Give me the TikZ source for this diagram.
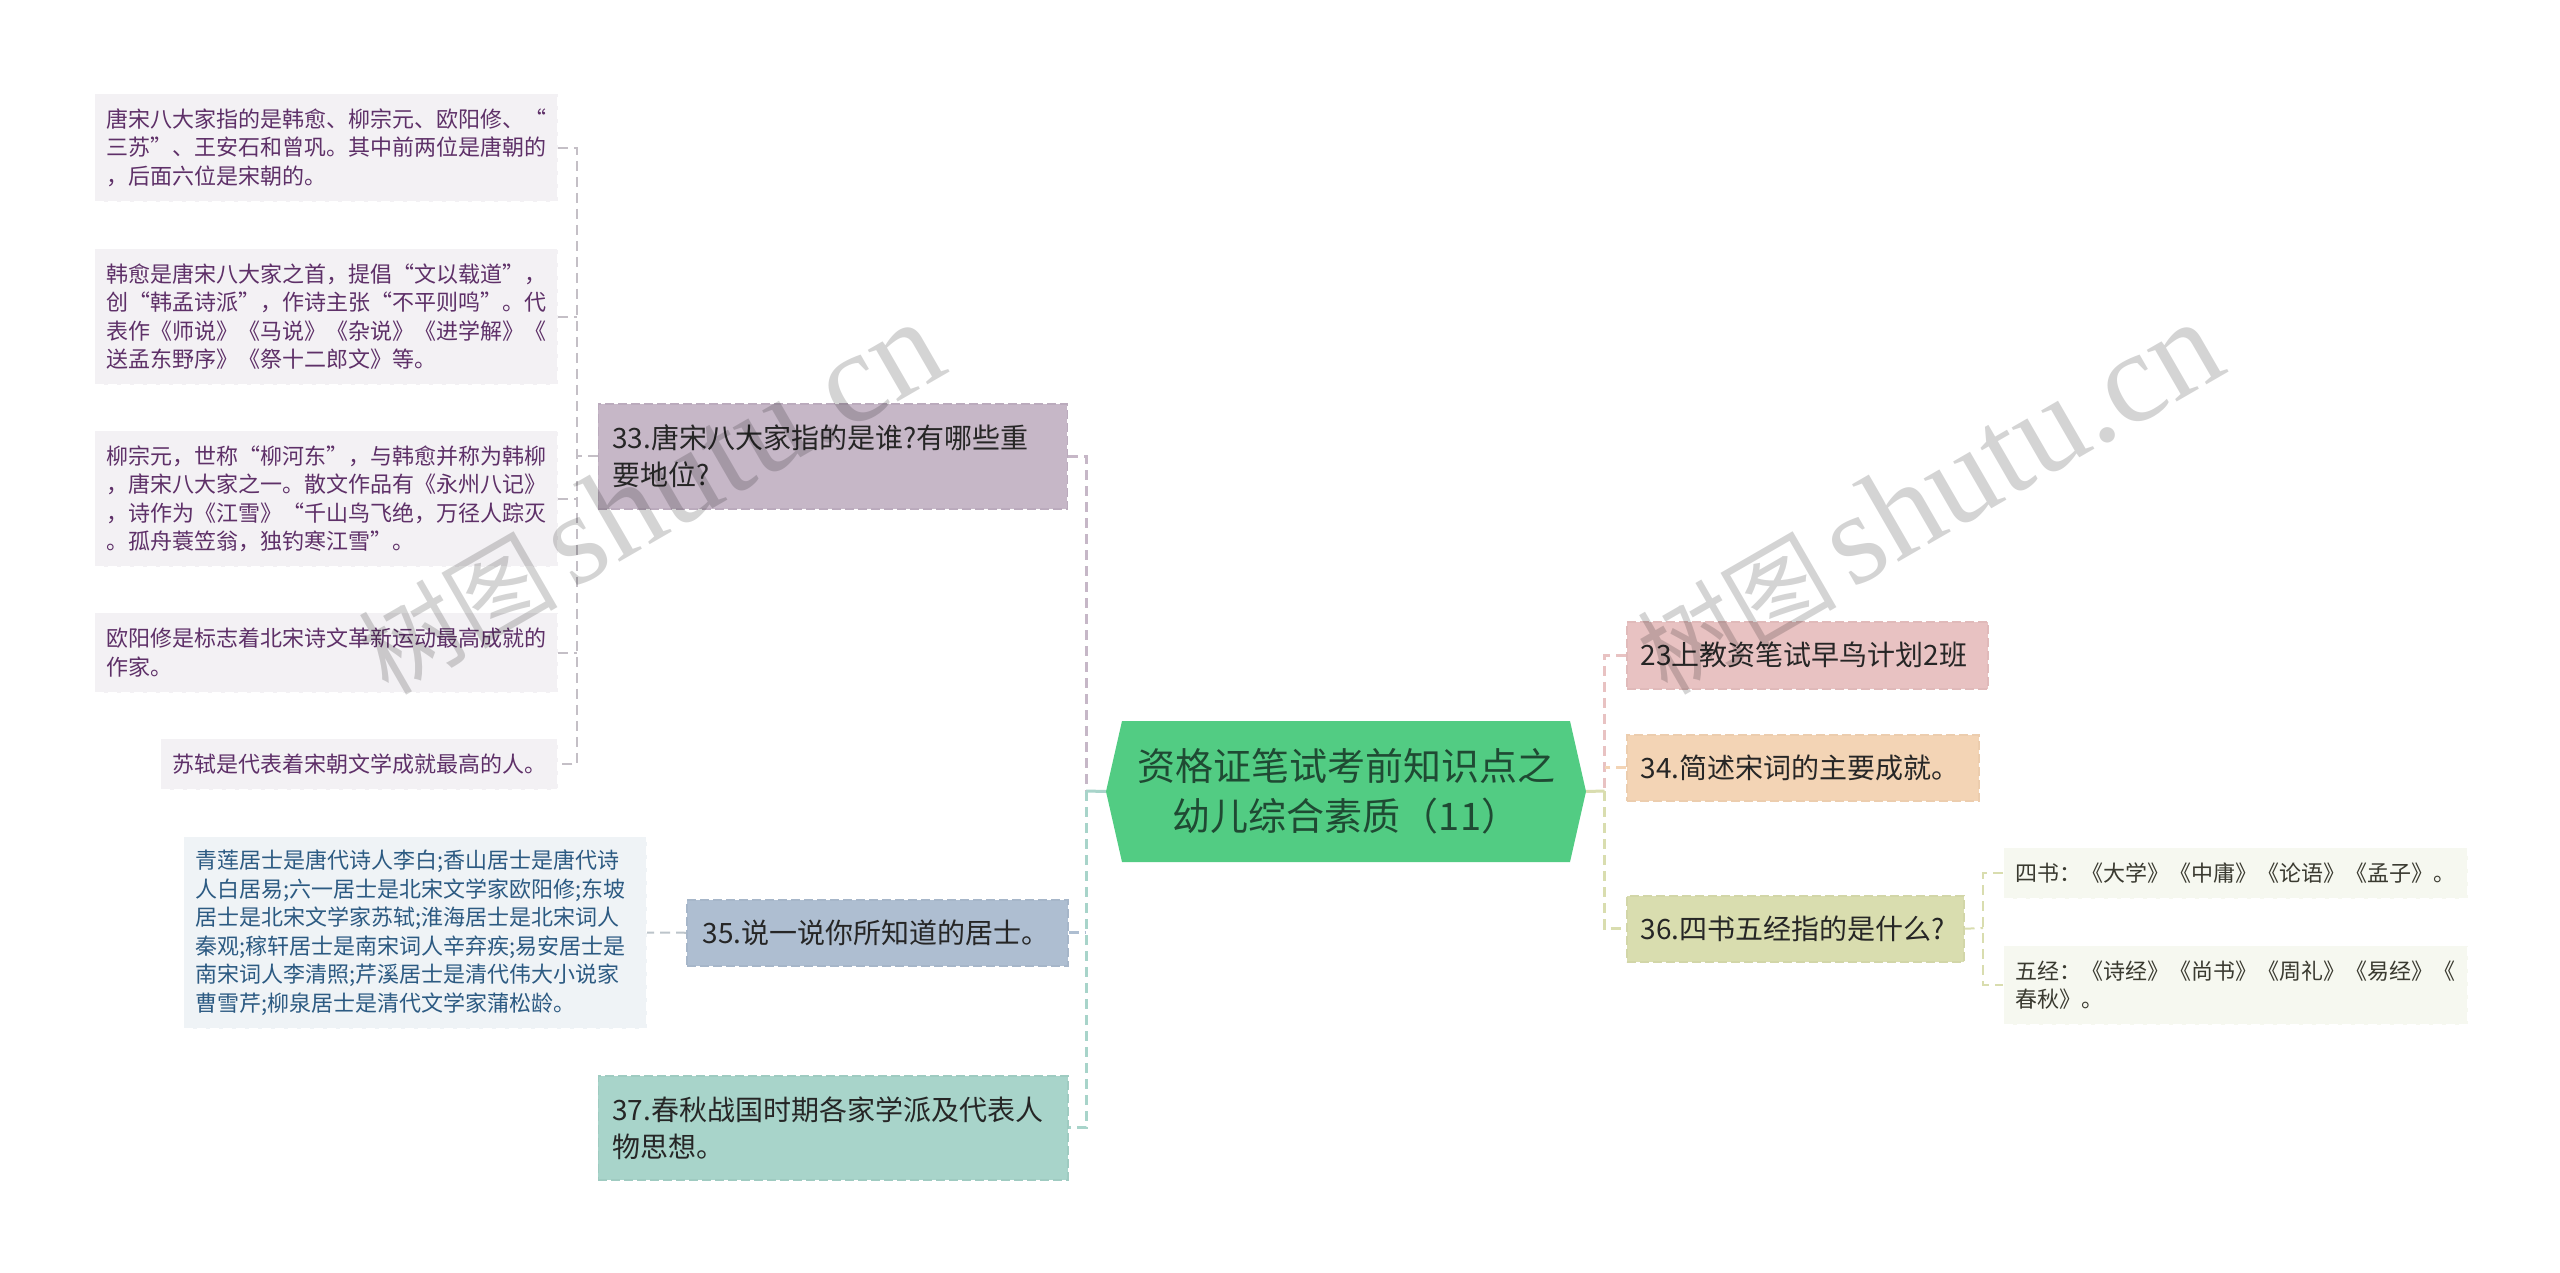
\documentclass[tikz,border=0pt]{standalone}
\usepackage{fontspec}
\setmainfont{Noto Sans CJK SC}
\newfontfamily\wmserif{Liberation Serif}
\usetikzlibrary{shapes.symbols}
\definecolor{cMain}{HTML}{52CC83}
\definecolor{cMainT}{HTML}{1F4A33}
\definecolor{cPur}{HTML}{C6B7C7}
\definecolor{cPurD}{HTML}{BBABBD}
\definecolor{cBlu}{HTML}{AEBED1}
\definecolor{cBluD}{HTML}{A6B6C9}
\definecolor{cTea}{HTML}{A8D4CA}
\definecolor{cTeaD}{HTML}{9FCBC1}
\definecolor{cRos}{HTML}{E8C2C2}
\definecolor{cRosD}{HTML}{E0BABA}
\definecolor{cOra}{HTML}{F3D4B5}
\definecolor{cOraD}{HTML}{ECCDAE}
\definecolor{cGre}{HTML}{D9DDAF}
\definecolor{cGreD}{HTML}{D2D6A8}
\definecolor{lPur}{HTML}{F3F1F4}
\definecolor{tPur}{HTML}{5E3068}
\definecolor{lBlu}{HTML}{EFF3F6}
\definecolor{tBlu}{HTML}{2C5A82}
\definecolor{lGre}{HTML}{F6F8F0}
\definecolor{tGre}{HTML}{3A3A30}
\definecolor{linkPur}{HTML}{C4BFC6}
\definecolor{linkBlu}{HTML}{BCC4CA}
\tikzset{
  boxbase/.style n args={3}{rectangle,anchor=north west,inner ysep=0pt,inner xsep=#3,
    minimum width=#1,minimum height=#2,text width=#1-2*#3,align=left},
  topic/.style n args={2}{boxbase={#1}{#2}{14pt},font=\fontsize{28}{37}\selectfont,text=black!85,
    line width=1.5pt,dash pattern=on 9pt off 4pt},
  leaf/.style n args={2}{boxbase={#1}{#2}{12pt},font=\fontsize{22}{28.5}\selectfont,
    line width=1.2pt,dash pattern=on 9pt off 4pt,draw=white},
  conn/.style={line width=3pt,dash pattern=on 10pt off 6pt},
  fine/.style={line width=2pt,dash pattern=on 10pt off 6pt},
  wm/.style={anchor=base east,rotate=30,text=black,text opacity=.17,font=\fontsize{100}{100}\selectfont}
}
\begin{document}
\begin{tikzpicture}[x=1pt,y=-1pt]
\useasboundingbox (0,0) rectangle (2560,1273);
\fill[white] (0,0) rectangle (2560,1273);
% nodes
\node[signal,signal to=west and east,signal pointer angle=154.4,fill=cMain,text=cMainT,
  minimum width=480pt,minimum height=141pt,inner sep=0pt,align=center,
  font=\fontsize{38}{50}\selectfont] (main) at (1346,791.5) {资格证笔试考前知识点之\\幼儿综合素质（11）};

\node[topic={469pt}{105pt},fill=cPur,draw=cPurD] (c33) at (597.5,403) {33.唐宋八大家指的是谁?有哪些重\\要地位?};
\node[topic={381pt}{66pt},fill=cBlu,draw=cBluD] (c35) at (686,899) {\hspace{2pt}35.说一说你所知道的居士。};
\node[topic={469.5pt}{104pt},fill=cTea,draw=cTeaD] (c37) at (597.5,1075) {37.春秋战国时期各家学派及代表人\\物思想。};
\node[topic={361pt}{67pt},fill=cRos,draw=cRosD] (c23) at (1626,621) {23上教资笔试早鸟计划2班};
\node[topic={352pt}{66pt},fill=cOra,draw=cOraD] (c34) at (1626,734) {34.简述宋词的主要成就。};
\node[topic={337pt}{66pt},fill=cGre,draw=cGreD] (c36) at (1626,895) {36.四书五经指的是什么?};

\node[leaf={463pt}{108pt},fill=lPur,text=tPur] (l1) at (94,93) {唐宋八大家指的是韩愈、柳宗元、欧阳修、“\\三苏”、王安石和曾巩。其中前两位是唐朝的\\，后面六位是宋朝的。};
\node[leaf={463pt}{136pt},fill=lPur,text=tPur] (l2) at (94,248) {韩愈是唐宋八大家之首，提倡“文以载道”，\\创“韩孟诗派”，作诗主张“不平则鸣”。代\\表作《师说》《马说》《杂说》《进学解》《\\送孟东野序》《祭十二郎文》等。};
\node[leaf={463pt}{136pt},fill=lPur,text=tPur] (l3) at (94,430) {柳宗元，世称“柳河东”，与韩愈并称为韩柳\\，唐宋八大家之一。散文作品有《永州八记》\\，诗作为《江雪》“千山鸟飞绝，万径人踪灭\\。孤舟蓑笠翁，独钓寒江雪”。};
\node[leaf={463pt}{80pt},fill=lPur,text=tPur] (l4) at (94,612) {欧阳修是标志着北宋诗文革新运动最高成就的\\作家。};
\node[leaf={397pt}{51pt},fill=lPur,text=tPur] (l5) at (160,738) {苏轼是代表着宋朝文学成就最高的人。};
\node[leaf={463pt}{192pt},fill=lBlu,text=tBlu] (l35) at (183,836) {青莲居士是唐代诗人李白;香山居士是唐代诗\\人白居易;六一居士是北宋文学家欧阳修;东坡\\居士是北宋文学家苏轼;淮海居士是北宋词人\\秦观;稼轩居士是南宋词人辛弃疾;易安居士是\\南宋词人李清照;芹溪居士是清代伟大小说家\\曹雪芹;柳泉居士是清代文学家蒲松龄。};
\node[leaf={464pt}{51pt},fill=lGre,text=tGre] (r1) at (2003,847) {四书：《大学》《中庸》《论语》《孟子》。};
\node[leaf={464pt}{79pt},fill=lGre,text=tGre] (r2) at (2003,945) {五经：《诗经》《尚书》《周礼》《易经》《\\春秋》。};

% bus coordinates
\coordinate (busL) at (1086,791);
\coordinate (busR) at (1604.5,791);
\coordinate (bus33) at (577,456);
\coordinate (bus36) at (1983,928);

% connectors from the central node
\draw[conn,draw=cPur] (c33.east) -- (busL|-c33.east) -- (busL);
\draw[conn,draw=cBlu] (c35.east) -- (busL|-c35.east);
\draw[conn,draw=cTea] (busL) -- (busL|-c35.east) -- (busL|-c37.east) -- (c37.east);
\draw[line width=3pt,draw=cTea] (main.west) -- (busL);
\draw[conn,draw=cRos] (c23.west) -- (busR|-c23.west) -- (busR);
\draw[conn,draw=cOra] (c34.west) -- (busR|-c34.west);
\draw[conn,draw=cGre] (busR) -- (busR|-c36.west) -- (c36.west);
\draw[line width=3pt,draw=cGre] (main.east) -- (busR);

% connectors to the leaves
\draw[fine,draw=linkPur] (l1.east) -- (bus33|-l1.east) -- (bus33|-l5.east) -- (l5.east);
\draw[fine,draw=linkPur] (l2.east) -- (bus33|-l2.east);
\draw[fine,draw=linkPur] (l3.east) -- (bus33|-l3.east);
\draw[fine,draw=linkPur] (l4.east) -- (bus33|-l4.east);
\draw[fine,draw=linkPur] (c33.west) -- (bus33|-c33.west);
\draw[fine,draw=linkBlu] (c35.west) -- (l35.east);
\draw[fine,draw=cGre] (r1.west) -- (bus36|-r1.west) -- (bus36|-r2.west) -- (r2.west);
\draw[fine,draw=cGre] (c36.east) -- (bus36);

% watermarks
\coordinate (wmA) at (955,369);
\coordinate (wmB) at (2234,369);
\node[wm] (w1) at (wmA) {树图\hspace{14pt}{\wmserif\fontsize{130}{130}\selectfont shutu.cn}};
\node[wm] (w2) at (wmB) {树图\hspace{14pt}{\wmserif\fontsize{130}{130}\selectfont shutu.cn}};
\end{tikzpicture}
\end{document}
